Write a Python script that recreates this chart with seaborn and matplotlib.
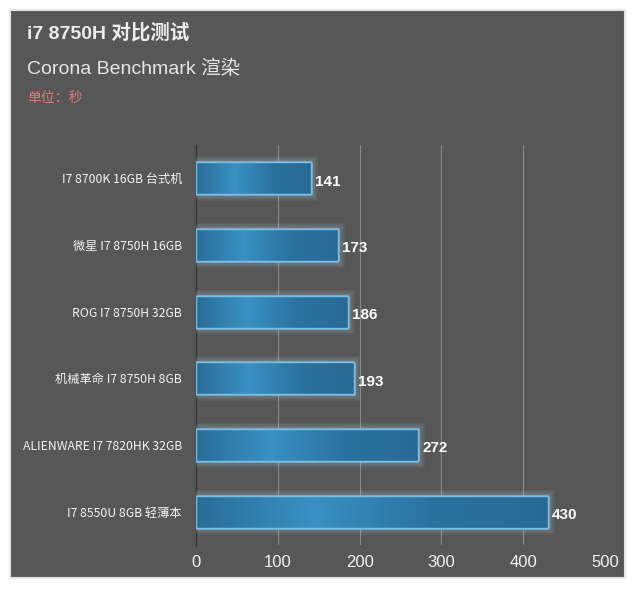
import numpy as np
import pandas as pd
import matplotlib
matplotlib.use("Agg")
import matplotlib.pyplot as plt
import matplotlib.patheffects as pe
from matplotlib.patches import Rectangle
from matplotlib.colors import LinearSegmentedColormap
import seaborn as sns

devices = ["I7 8700K 16GB 台式机", "微星 I7 8750H 16GB", "ROG I7 8750H 32GB",
           "机械革命 I7 8750H 8GB", "ALIENWARE I7 7820HK 32GB", "I7 8550U 8GB 轻薄本"]
seconds = [141, 173, 186, 193, 272, 430]
xticks = [0, 100, 200, 300, 400, 500]

df = pd.DataFrame({"device": devices, "seconds": seconds})

sns.set_theme(style="dark")
plt.rcParams['font.family'] = ['Liberation Sans', 'Noto Sans CJK SC', 'DejaVu Sans']

bg = "#575757"
fig = plt.figure(figsize=(6.4, 5.93), dpi=100, facecolor="white")
fig.patches.append(Rectangle((10 / 640, 1 - 578 / 593), 615 / 640, 568 / 593,
                             transform=fig.transFigure, facecolor=bg,
                             edgecolor="#e6e6e6", lw=1.5, zorder=-5))

ax = fig.add_axes([196 / 640, 1 - 545 / 593, 409 / 640, 400 / 593])
ax.set_facecolor("none")

sns.barplot(data=df, x="seconds", y="device", ax=ax, color="#3185b8",
            width=0.48, edgecolor="#7cbde2", linewidth=1.0, zorder=3)

# gradient fill inside each bar, soft glow around it
cmap = LinearSegmentedColormap.from_list("bar", ["#2a6d99", "#3991c4", "#2b72a0", "#286a95"])
grad = np.linspace(0, 1, 256).reshape(1, -1)
glow = [pe.withStroke(linewidth=lw, foreground="#b8dcf0", alpha=0.07) for lw in (9, 7, 5, 3)]
for p in list(ax.patches):
    x0, y0 = p.get_x(), p.get_y()
    w, h = p.get_width(), p.get_height()
    p.set_path_effects(glow + [pe.Normal()])
    im = ax.imshow(grad, cmap=cmap, aspect="auto", extent=[x0, x0 + w, y0 + h, y0],
                   zorder=3.5)
    im.set_clip_path(p)
    ax.add_patch(Rectangle((x0, y0), w, h, facecolor="none", edgecolor="#7cbde2",
                           lw=1.0, zorder=4))

for i, v in enumerate(seconds):
    ax.text(v + 5, i + 0.05, str(v), va="center", ha="left", color="white",
            fontsize=11, fontweight="bold", zorder=5)

ax.set_xlim(0, 500)
ax.set_ylim(5.5, -0.5)
ax.set_xticks(xticks)
ax.set_xlabel("")
ax.set_ylabel("")
for s in ["top", "right", "bottom"]:
    ax.spines[s].set_visible(False)
ax.spines["left"].set_color("#333333")
ax.spines["left"].set_linewidth(1)
ax.grid(axis="x", color="#8a8a8a", lw=0.8, zorder=0)
ax.grid(axis="y", visible=False)
ax.set_axisbelow(True)
ax.tick_params(axis="y", colors="#f2f2f2", labelsize=8.8, length=0, pad=10)
ax.tick_params(axis="x", colors="#f2f2f2", labelsize=12, length=0, pad=7)
for t in ax.get_yticklabels():
    t.set_family(["Noto Sans CJK SC"])

fig.text(27 / 640, 1 - 33 / 593, "i7 8750H 对比测试", color="#ececec", fontsize=14,
         fontweight="bold", va="center", ha="left")
fig.text(27 / 640, 1 - 69 / 593, "Corona Benchmark 渲染", color="#e6e6e6", fontsize=14,
         va="center", ha="left")
fig.text(27 / 640, 1 - 98 / 593, "单位：秒", color="#e8787a", fontsize=10,
         va="center", ha="left", family=["Noto Sans CJK SC"])

fig.savefig("out.png", dpi=100, facecolor="white")
